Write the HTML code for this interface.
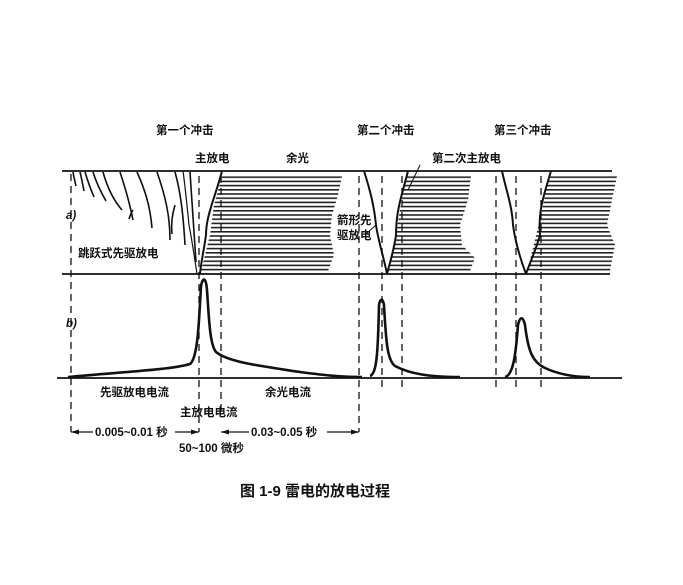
<!DOCTYPE html>
<html><head><meta charset="utf-8"><style>
html,body{margin:0;padding:0;background:#fff;}
svg{display:block}
text{font-family:"Liberation Sans","Noto Sans CJK SC",sans-serif;font-weight:bold;fill:#111;}
</style></head><body>
<svg width="683" height="585" viewBox="0 0 683 585" xmlns="http://www.w3.org/2000/svg">
<defs>
<pattern id="h" width="10" height="4.2" patternUnits="userSpaceOnUse">
<rect x="0" y="0" width="10" height="1.6" fill="#222"/>
</pattern>
</defs>
<g stroke="#111" fill="none">
<!-- hatched regions -->
<polygon points="222,176 342,176 338,195 332,215 330,235 334,255 328,271 201,271 210,235 214,205" fill="url(#h)" stroke="none"/>
<polygon points="406,176 471,176 468,200 460,225 462,245 475,258 470,271 388,271 395,240 400,210" fill="url(#h)" stroke="none"/>
<polygon points="549,176 617,176 612,200 607,225 615,245 610,271 527,271 535,240 542,210" fill="url(#h)" stroke="none"/>
<!-- main lines -->
<line x1="62" y1="171" x2="612" y2="171" stroke-width="1.8"/>
<line x1="62" y1="274" x2="610" y2="274" stroke-width="1.8"/>
<line x1="57" y1="378" x2="622" y2="378" stroke-width="1.8"/>
<!-- main strokes -->
<path d="M222,171 C216,195 206,215 206,235 C204,250 201,262 200,274" stroke-width="2"/>
<path d="M197,274 C194,255 192,240 189,225 C187,205 185,185 183,171" stroke-width="1.2"/>
<path d="M408,171 C402,195 396,210 396,235 C394,250 390,262 387,274" stroke-width="2"/>
<path d="M364,171 C370,190 374,205 376,225 C378,240 384,258 387,274" stroke-width="2"/>
<path d="M551,171 C544,195 538,210 540,235 C536,250 530,262 526,274" stroke-width="2"/>
<path d="M502,171 C506,190 512,205 513,225 C515,240 520,258 526,274" stroke-width="2"/>
<line x1="420" y1="165" x2="408" y2="190" stroke-width="1"/>
<line x1="376" y1="225" x2="366" y2="234" stroke-width="1"/>
<!-- leader strokes -->
<g stroke-width="1.6">
<path d="M73,172 C74,178 75,182 76,186"/>
<path d="M80,172 C82,180 83,186 84,191"/>
<path d="M85,172 C88,182 91,190 94,197"/>
<path d="M93,172 C97,185 102,194 106,201"/>
<path d="M103,172 C108,190 115,202 122,210"/>
<path d="M120,172 C126,190 130,205 133,220 M133,210 C131,213 130,216 129,219"/>
<path d="M137,172 C145,190 150,205 152,228"/>
<path d="M157,172 C165,195 170,215 170,240"/>
<path d="M175,172 C180,190 183,210 185,245 M175,205 C172,215 171,225 172,234"/>
<path d="M190,172 C192,200 194,230 196,262"/>
</g>
<!-- dashed verticals -->
<g stroke-width="1.3" stroke-dasharray="7,5">
<line x1="71" y1="174" x2="71" y2="432"/>
<line x1="199" y1="176" x2="199" y2="432"/>
<line x1="221" y1="176" x2="221" y2="412"/>
<line x1="359" y1="176" x2="359" y2="432"/>
<line x1="382" y1="176" x2="382" y2="392"/>
<line x1="402" y1="176" x2="402" y2="392"/>
<line x1="496" y1="176" x2="496" y2="392"/>
<line x1="516" y1="176" x2="516" y2="392"/>
<line x1="541" y1="176" x2="541" y2="392"/>
</g>
<!-- current curves -->
<g stroke-width="2.6">
<path d="M68,377 C120,372 170,370 190,364 C198,358 199,320 201,286 C203,276 206,278 207,290 C209,320 210,345 216,352 C228,362 260,366 300,372 C330,376 345,377 362,377"/>
<path d="M370,376 C377,374 378,350 379,305 C380,298 383,298 384,305 C386,340 387,360 395,366 C410,374 430,377 460,377"/>
<path d="M505,377 C514,375 516,350 518,325 C520,316 523,316 525,325 C528,350 532,362 545,368 C560,375 575,377 590,377"/>
</g>
<!-- dimension lines -->
<g stroke-width="1.2">
<line x1="71" y1="432" x2="93" y2="432"/><line x1="175" y1="432" x2="199" y2="432"/>
<line x1="221" y1="432" x2="249" y2="432"/><line x1="327" y1="432" x2="359" y2="432"/>
</g>
<g fill="#111" stroke="none">
<polygon points="71,432 79,429.5 79,434.5"/><polygon points="199,432 191,429.5 191,434.5"/>
<polygon points="221,432 229,429.5 229,434.5"/><polygon points="359,432 351,429.5 351,434.5"/>
</g>
</g>
<!-- labels -->
<g font-size="11.5">
<text x="156" y="134">第一个冲击</text>
<text x="357" y="134">第二个冲击</text>
<text x="494" y="134">第三个冲击</text>
<text x="195" y="162">主放电</text>
<text x="286" y="162">余光</text>
<text x="432" y="162">第二次主放电</text>
<text x="337" y="224">箭形先</text>
<text x="337" y="239">驱放电</text>
<text x="78" y="257">跳跃式先驱放电</text>
<text x="66" y="219" font-style="italic">a)</text>
<text x="66" y="327" font-style="italic">b)</text>
<text x="100" y="396">先驱放电电流</text>
<text x="265" y="396">余光电流</text>
<text x="180" y="416">主放电电流</text>
<text x="95" y="436">0.005~0.01 秒</text>
<text x="251" y="436">0.03~0.05 秒</text>
<text x="179" y="452">50~100 微秒</text>
</g>
<text x="240" y="496" font-size="15" font-weight="normal">图 1-9 雷电的放电过程</text>
</svg>
</body></html>
